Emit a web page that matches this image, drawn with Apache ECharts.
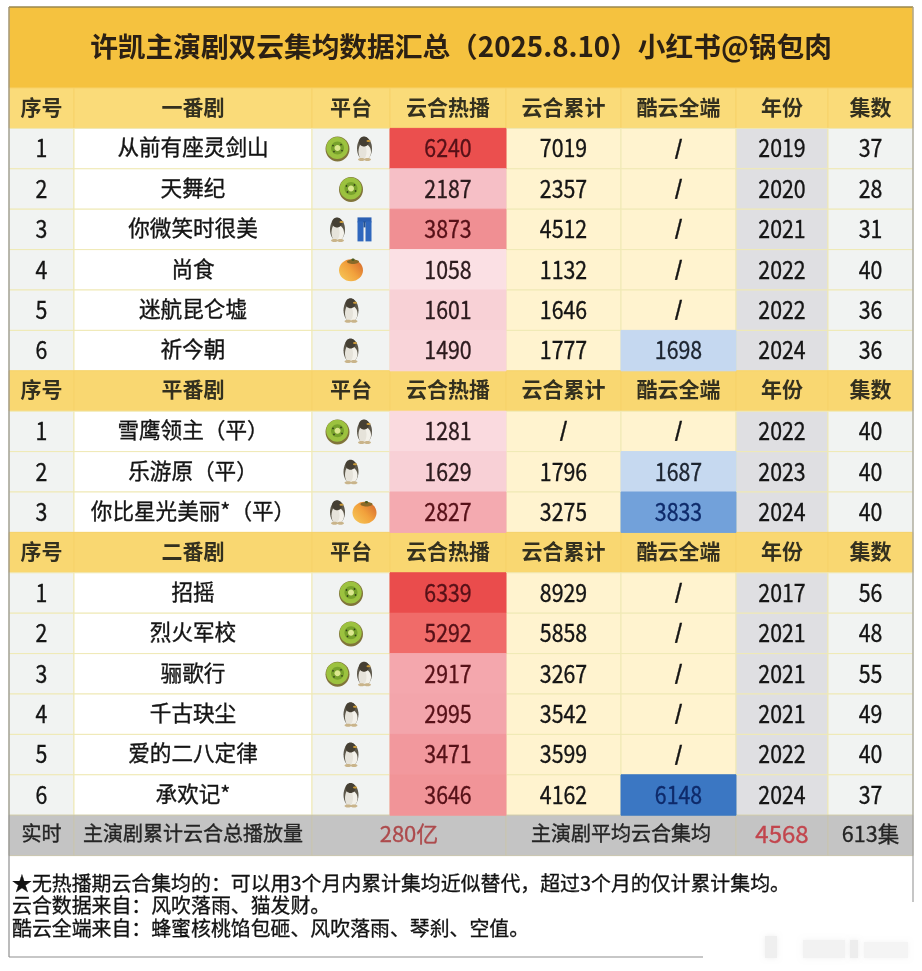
<!DOCTYPE html>
<html>
<head>
<meta charset="utf-8">
<style>html,body{margin:0;padding:0;background:#fff}#chart{width:922px;height:971px}</style>
<script src="https://cdn.jsdelivr.net/npm/echarts@6/dist/echarts.min.js"></script>
</head>
<body>
<div id="chart"></div>
<script>
var titleText = '许凯主演剧双云集均数据汇总（2025.8.10）小红书@锅包肉';
var headerLabels = ['序号', '', '平台', '云合热播', '云合累计', '酷云全端', '年份', '集数'];
var sectionNames = ['一番剧', '平番剧', '二番剧'];
var sectionSizes = [6, 3, 6];
var dramaNames = ['从前有座灵剑山', '天舞纪', '你微笑时很美', '尚食', '迷航昆仑墟', '祈今朝',
    '雪鹰领主（平）', '乐游原（平）', '你比星光美丽*（平）',
    '招摇', '烈火军校', '骊歌行', '千古玦尘', '爱的二八定律', '承欢记*'];
var platforms = [['kiwi', 'penguin'], ['kiwi'], ['penguin', 'jeans'], ['mango'], ['penguin'], ['penguin'],
    ['kiwi', 'penguin'], ['penguin'], ['penguin', 'mango'],
    ['kiwi'], ['kiwi'], ['kiwi', 'penguin'], ['penguin'], ['penguin'], ['penguin']];
var yunheHot = [6240, 2187, 3873, 1058, 1601, 1490, 1281, 1629, 2827, 6339, 5292, 2917, 2995, 3471, 3646];
var yunheTotal = [7019, 2357, 4512, 1132, 1646, 1777, null, 1796, 3275, 8929, 5858, 3267, 3542, 3599, 4162];
var kuyunAll = [null, null, null, null, null, 1698, null, 1687, 3833, null, null, null, null, null, 6148];
var years = [2019, 2020, 2021, 2022, 2022, 2024, 2022, 2023, 2024, 2017, 2021, 2021, 2021, 2022, 2024];
var episodes = [37, 28, 31, 40, 36, 36, 40, 40, 40, 56, 48, 55, 49, 40, 37];
var footerLabels = ['实时', '主演剧累计云合总播放量', '280亿', '主演剧平均云合集均', '4568', '613集'];
var noteLines = ['★无热播期云合集均的：可以用3个月内累计集均近似替代，超过3个月的仅计累计集均。',
    '云合数据来自：风吹落雨、猫发财。',
    '酷云全端来自：蜂蜜核桃馅包砸、风吹落雨、琴刹、空值。'];

// layout, in page pixels (both axes run 0..page size)
var FONT = '"Noto Sans CJK SC"';
var colEdges = [9, 74, 312, 390, 506, 621, 736, 828, 913];
var tableTop = 88, rowH = 40.4;
var colFills = ['#f1f3f2', '#ffffff', '#f1f3f2', '#fff', '#fff3cf', '#fff3cf', '#dfdfe2', '#f1f3f2'];

function cell(x0, x1, row, fill, stroke, text, font, color) {
    return {x0: x0, x1: x1, y0: tableTop + row * rowH, y1: tableTop + (row + 1) * rowH,
        fill: fill, stroke: stroke, text: text, font: font, color: color};
}

var plainCells = [], hotData = [], kuyunData = [], marks = [];
var rowNo = 0, dramaNo = 0;
var HEAD_FONT = 'bold 21px ' + FONT, BODY_FONT = '21.6px ' + FONT, NUM_FONT = '24.5px ' + FONT;
var SLASH_FONT = 'bold 20px ' + FONT;
sectionNames.forEach(function (name, s) {
    for (var c = 0; c < 8; c++) {
        plainCells.push(cell(colEdges[c], colEdges[c + 1], rowNo, s == 0 ? '#fadb79' : '#f9d771', '#f7d26a',
            c == 1 ? name : headerLabels[c], HEAD_FONT, '#33301f'));
    }
    rowNo++;
    for (var i = 0; i < sectionSizes[s]; i++) {
        var texts = [i + 1, dramaNames[dramaNo], '', '', yunheTotal[dramaNo], '/', years[dramaNo], episodes[dramaNo]];
        for (var c2 = 0; c2 < 8; c2++) {
            if (c2 == 3) continue;
            if (c2 == 5 && kuyunAll[dramaNo] != null) continue;
            var t = texts[c2] == null ? '/' : String(texts[c2]);
            var f = t == '/' ? SLASH_FONT : (c2 == 1 ? BODY_FONT : NUM_FONT);
            plainCells.push(cell(colEdges[c2], colEdges[c2 + 1], rowNo, colFills[c2], '#efe9b4', t, f, '#141414'));
        }
        hotData.push([rowNo, yunheHot[dramaNo]]);
        if (kuyunAll[dramaNo] != null) kuyunData.push([rowNo, kuyunAll[dramaNo]]);
        var pl = platforms[dramaNo];
        pl.forEach(function (p, k) {
            marks.push([pl.length == 1 ? 0 : (k == 0 ? -13.5 : 13.5), rowNo, ['kiwi', 'penguin', 'jeans', 'mango'].indexOf(p)]);
        });
        rowNo++;
        dramaNo++;
    }
});
var FOOT_FONT = '20px ' + FONT;
var footerSpans = [[0, 1], [1, 2], [2, 4], [4, 6], [6, 7], [7, 8]];
footerSpans.forEach(function (sp, i) {
    var isRed = i == 2 || i == 4;
    var f = i == 4 ? '24px ' + FONT : (isRed ? '22px ' + FONT : (i == 5 ? '21.5px ' + FONT : FOOT_FONT));
    plainCells.push(cell(colEdges[sp[0]], colEdges[sp[1]], rowNo, '#c4c4c4', '#c9c5ae', footerLabels[i], f,
        i == 2 ? '#ad4a4c' : (i == 4 ? '#c2454d' : '#242424')));
});
plainCells.unshift({x0: 9, x1: 913, y0: 7, y1: tableTop, fill: '#f5c23f', stroke: '#f5c23f', text: ''});

// digits in the picture are tall and narrow, so big type is squeezed sideways
function cellGroup(api, x0, x1, y0, y1, fill, stroke, text, font, color) {
    var a = api.coord([x0, y0]), b = api.coord([x1, y1]);
    var squeeze = font == NUM_FONT;
    var isBold = font == HEAD_FONT;
    return {
        type: 'group',
        children: [
            {type: 'rect', shape: {x: a[0], y: a[1], width: b[0] - a[0], height: b[1] - a[1]},
                style: {fill: fill, stroke: stroke, lineWidth: 1}},
            {type: 'text', z2: 5, x: (a[0] + b[0]) / 2, y: (a[1] + b[1]) / 2 - (squeeze ? 0.5 : 1.5),
                scaleX: squeeze ? 0.87 : 1,
                style: {x: 0, y: 0, text: text, font: font, fill: color, stroke: isBold ? null : color,
                    lineWidth: isBold ? 0 : 0.35, align: 'center', verticalAlign: 'middle'}}
        ]
    };
}

function renderPlain(params, api) {
    var c = plainCells[params.dataIndex];
    return cellGroup(api, c.x0, c.x1, c.y0, c.y1, c.fill, c.stroke, c.text, c.font, c.color);
}

function renderHeat(col, textColor) {
    return function (params, api) {
        var row = api.value(0), v = api.value(1);
        var fill = api.visual('color');
        return cellGroup(api, colEdges[col], colEdges[col + 1], tableTop + row * rowH, tableTop + (row + 1) * rowH,
            fill, fill, String(v), NUM_FONT, textColor(v));
    };
}

function el(cx, cy, rx, ry, fill) {
    return {type: 'ellipse', shape: {cx: cx, cy: cy, rx: rx, ry: ry}, style: {fill: fill}};
}
function box(x, y, w, h, fill) {
    return {type: 'rect', shape: {x: x, y: y, width: w, height: h}, style: {fill: fill}};
}

// platform logos, there is no emoji font so they are simple shapes around (x, y)
function iconParts(kind, x, y) {
    if (kind == 0) {
        return [el(x, y + 0.5, 12, 12.5, '#80743a'), el(x - 0.3, y - 0.6, 11, 11, '#9cc23f'), el(x, y - 0.6, 6.5, 6.5, '#78a22c'),
            el(x, y - 0.6, 3, 3, '#dbe78e'), el(x - 4.5, y - 3, 0.9, 0.9, '#33401a'), el(x + 4.5, y + 2, 0.9, 0.9, '#33401a'),
            el(x + 3.5, y - 4, 0.9, 0.9, '#33401a'), el(x - 3.5, y + 3, 0.9, 0.9, '#33401a')];
    }
    if (kind == 1) {
        return [el(x, y, 7.5, 11.5, '#5c574a'), el(x + 1, y + 3.5, 5.5, 7.5, '#f3f1ea'), el(x - 2, y + 3, 4, 8, '#e6e3da'),
            el(x - 0.5, y - 7, 5, 5, '#453f33'), el(x + 4, y - 7.5, 2, 1, '#c99a3a'), el(x - 3, y + 11, 3.5, 1.5, '#c9b48a'),
            el(x + 3, y + 11, 3.5, 1.5, '#c9b48a')];
    }
    if (kind == 2) {
        return [box(x - 7, y - 12, 14, 5, '#2a5fb2'), box(x - 7, y - 8, 6, 20, '#2f67bd'), box(x + 1, y - 8, 6, 20, '#2f67bd'),
            box(x - 1, y - 8, 2, 6, '#24508f')];
    }
    return [
        {type: 'ellipse', shape: {cx: x, cy: y + 0.5, rx: 12, ry: 11},
            style: {fill: {type: 'linear', x: 0, y: 1, x2: 1, y2: 0, colorStops: [
                {offset: 0, color: '#f6cc5c'}, {offset: 0.5, color: '#f2a23c'}, {offset: 1, color: '#d2622c'}]}}},
        el(x + 2, y - 8, 6, 2.2, '#8a6a28'), el(x + 2, y - 10, 1.6, 1.2, '#4a5a20')
    ];
}

function renderIcon(params, api) {
    var p = api.coord([(colEdges[2] + colEdges[3]) / 2 + api.value(0), tableTop + (api.value(1) + 0.5) * rowH]);
    return {type: 'group', children: iconParts(api.value(2), p[0], p[1])};
}

// frame of the picture, the bottom right corner is hidden by the blurred watermark
var frameColor = '#8f8f8f';
function blurBar(x, y, w, h, c) {
    return {type: 'rect', z: 21, shape: {x: x, y: y, width: w, height: h},
        style: {fill: c, shadowBlur: 5, shadowColor: c}};
}
var graphicItems = [
    {type: 'line', z: 20, shape: {x1: 9, y1: 7, x2: 913, y2: 7}, style: {stroke: '#6f6a55', lineWidth: 1}},
    {type: 'line', z: 20, shape: {x1: 9, y1: 7, x2: 9, y2: 957}, style: {stroke: frameColor, lineWidth: 1.2}},
    {type: 'line', z: 20, shape: {x1: 913, y1: 7, x2: 913, y2: 902}, style: {stroke: '#a0a0a0', lineWidth: 1.2}},
    {type: 'line', z: 20, shape: {x1: 9, y1: 957, x2: 703, y2: 957}, style: {stroke: frameColor, lineWidth: 1.2}},
    blurBar(765, 936, 12, 22, '#efefef'),
    blurBar(803, 940, 42, 18, '#f2f2f2'),
    blurBar(850, 940, 8, 18, '#ededed'),
    blurBar(864, 942, 44, 16, '#f4f4f4')
];
noteLines.forEach(function (line, i) {
    graphicItems.push({type: 'text', z: 20, style: {x: 12, y: [883, 905, 928][i], text: line, font: '19.9px ' + FONT,
        fill: '#111111', stroke: '#111111', lineWidth: 0.3, align: 'left', verticalAlign: 'middle'}});
});

var chart = echarts.init(document.getElementById('chart'));
chart.setOption({
    backgroundColor: '#ffffff',
    animation: false,
    title: {
        text: titleText, left: 'center', top: 41, textVerticalAlign: 'middle', z: 20,
        textStyle: {fontFamily: FONT, fontSize: 27.7, fontWeight: 'bold', color: '#2b2014'}
    },
    tooltip: {show: false},
    grid: {left: 0, right: 0, top: 0, bottom: 0},
    xAxis: {type: 'value', min: 0, max: 922, show: false},
    yAxis: {type: 'value', min: 0, max: 971, inverse: true, show: false},
    visualMap: [
        {show: false, type: 'continuous', seriesIndex: 1, dimension: 1, min: 1000, max: 6400,
            inRange: {color: ['#fbe2e6', '#f6c3ca', '#f39fa5', '#ef8789', '#f06a68', '#ea4a4a']}},
        {show: false, type: 'continuous', seriesIndex: 2, dimension: 1, min: 1600, max: 6200,
            inRange: {color: ['#c9dbf1', '#6f9fd9', '#3a76c3']}}
    ],
    graphic: graphicItems,
    series: [
        {name: 'cells', type: 'custom', silent: true, clip: false, renderItem: renderPlain,
            data: plainCells.map(function (c, i) { return [i]; })},
        {name: '云合热播', type: 'custom', silent: true, renderItem: renderHeat(3, function (v) {
            return v >= 2800 ? '#561017' : '#2c1a1d';
        }), encode: {x: -1, y: -1}, data: hotData},
        {name: '酷云全端', type: 'custom', silent: true, renderItem: renderHeat(5, function (v) {
            return v >= 3000 ? '#0e2a6a' : '#1c2430';
        }), encode: {x: -1, y: -1}, data: kuyunData},
        {name: '平台', type: 'custom', silent: true, renderItem: renderIcon, encode: {x: -1, y: -1}, data: marks}
    ]
});
</script>
</body>
</html>
